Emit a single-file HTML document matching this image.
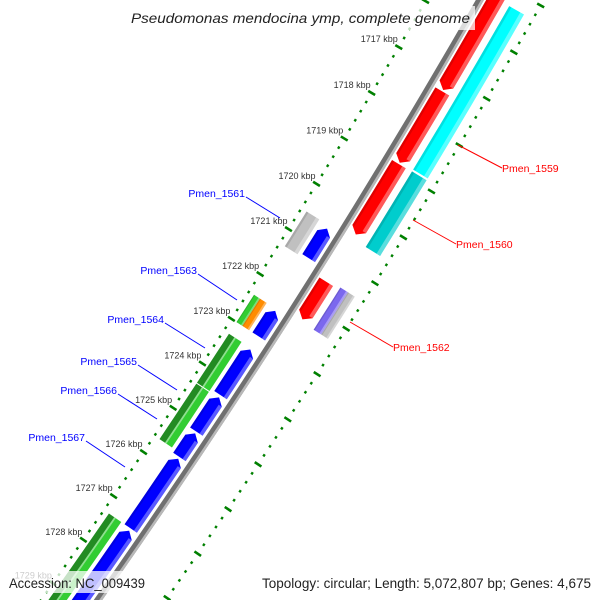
<!DOCTYPE html>
<html><head><meta charset="utf-8"><style>
html,body{margin:0;padding:0;background:#fff;width:600px;height:600px;overflow:hidden;}
svg{display:block;font-family:"Liberation Sans","DejaVu Sans",sans-serif;}
</style></head><body>
<svg id="map" width="600" height="600" viewBox="0 0 600 600" xmlns="http://www.w3.org/2000/svg">
<g id="ticks"></g>
<g id="backbone"></g>
<g id="features"></g>
<g id="ticklabels"></g>
<g font-size="10.5">
<line x1="458" y1="145" x2="502" y2="168" stroke="#f00" stroke-width="1"/>
<text x="502" y="172" fill="#f00">Pmen_1559</text>
<line x1="413" y1="220" x2="456" y2="244" stroke="#f00" stroke-width="1"/>
<text x="456" y="248" fill="#f00">Pmen_1560</text>
<line x1="350" y1="322" x2="393" y2="347" stroke="#f00" stroke-width="1"/>
<text x="393" y="351" fill="#f00">Pmen_1562</text>
<line x1="246" y1="197" x2="280" y2="218" stroke="#00f" stroke-width="1"/>
<text x="245" y="197" fill="#00f" text-anchor="end">Pmen_1561</text>
<line x1="198" y1="274" x2="237" y2="300" stroke="#00f" stroke-width="1"/>
<text x="197" y="274" fill="#00f" text-anchor="end">Pmen_1563</text>
<line x1="165" y1="323" x2="205" y2="348" stroke="#00f" stroke-width="1"/>
<text x="164" y="323" fill="#00f" text-anchor="end">Pmen_1564</text>
<line x1="138" y1="365" x2="177" y2="390" stroke="#00f" stroke-width="1"/>
<text x="137" y="365" fill="#00f" text-anchor="end">Pmen_1565</text>
<line x1="118" y1="394" x2="157" y2="419" stroke="#00f" stroke-width="1"/>
<text x="117" y="394" fill="#00f" text-anchor="end">Pmen_1566</text>
<line x1="86" y1="441" x2="125" y2="467" stroke="#00f" stroke-width="1"/>
<text x="85" y="441" fill="#00f" text-anchor="end">Pmen_1567</text>
</g>
<rect x="127" y="6" width="348" height="24" fill="#fff" fill-opacity="0.75"/>
<text x="131" y="23" font-size="14" font-style="italic" fill="#222" textLength="339" lengthAdjust="spacingAndGlyphs">Pseudomonas mendocina ymp, complete genome</text>
<rect x="4" y="571" width="145" height="22" fill="#fff" fill-opacity="0.75"/>
<text x="9" y="588" font-size="14" fill="#222" textLength="136" lengthAdjust="spacingAndGlyphs">Accession: NC_009439</text>
<rect x="257" y="571" width="340" height="22" fill="#fff" fill-opacity="0.75"/>
<text x="262" y="588" font-size="14" fill="#222" textLength="329" lengthAdjust="spacingAndGlyphs">Topology: circular; Length: 5,072,807 bp; Genes: 4,675</text>
</svg>
<script>
// ---- data ----
const featStarts = [1715.2, 1717.3, 1718.88, 1715.3, 1718.87, 1721.46, 1721.41, 1721.41, 1720.54, 1720.61, 1722.39, 1722.39, 1722.43, 1723.26, 1724.38, 1723.29, 1724.36, 1725.17, 1725.74, 1727.37, 1727.32];
const featEnds   = [1717.27, 1718.85, 1720.42, 1718.83, 1720.52, 1722.29, 1722.34, 1722.34, 1721.31, 1721.26, 1723.0, 1723.0, 1723.0, 1724.36, 1725.63, 1724.31, 1725.13, 1725.7, 1727.32, 1731.5, 1731.5];
const featTracks = ['red', 'red', 'red', 'cyan', 'cyan', 'red', 'cyanA', 'cyanB', 'green', 'blue', 'greenA', 'greenB', 'blue', 'green', 'green', 'blue', 'blue', 'blue', 'blue', 'blue', 'green'];
const featColors = ['#ff0000', '#ff0000', '#ff0000', '#00ffff', '#00cdcd', '#ff0000', '#7b68ee', '#c0c0c0', '#c0c0c0', '#0000ff', '#32cd32', '#ff8c00', '#0000ff', 'g', 'g', '#0000ff', '#0000ff', '#0000ff', '#0000ff', '#0000ff', 'g'];
const featStrands = [1, 1, 1, 0, 0, 1, 0, 0, 0, -1, 0, 0, -1, 0, 0, -1, -1, -1, -1, -1, 0];
const tickStart = 1715;
const tickEnd = 1731;
const labelKbp = [1717, 1718, 1719, 1720, 1721, 1722, 1723, 1724, 1725, 1726, 1727, 1728, 1729];

// ---- geometry ----
const NS = 'http://www.w3.org/2000/svg';
const CX = -6155, CY = -3801;
const TRACKS = {green:[7606,7621], greenA:[7606,7613], greenB:[7613,7621], blue:[7625,7640], red:[7652,7668], cyan:[7675,7692], cyanA:[7675,7684], cyanB:[7684,7692]};
function th(k){ return (30.42 + (k - 1717) * 0.401) * Math.PI / 180; }
function P(k, r){ const t = th(k); return [CX + r * Math.cos(t), CY + r * Math.sin(t)]; }
function pts(list){ return list.map(p => p[0].toFixed(2) + ',' + p[1].toFixed(2)).join(' '); }
function mk(tag, attrs){ const e = document.createElementNS(NS, tag); for (const a in attrs) e.setAttribute(a, attrs[a]); return e; }

// backbone
const bb = document.getElementById('backbone');
const bbPts = [];
for (let k = 1714; k <= 1732; k += 0.5) bbPts.push(P(k, 7643));
for (let k = 1732; k >= 1714; k -= 0.5) bbPts.push(P(k, 7650));
const bbDark = mk('polygon', {points: pts(bbPts), fill: '#707070'});


bb.appendChild(bbDark);
const hlPts = [];
for (let k = 1714; k <= 1732; k += 0.5) hlPts.push(P(k, 7647.5));
for (let k = 1732; k >= 1714; k -= 0.5) hlPts.push(P(k, 7650));
const bbLight = mk('polygon', {points: pts(hlPts), fill: '#b8b8b8'});


bb.appendChild(bbLight);

// ticks
const tg = document.getElementById('ticks');
for (let i = 0; i <= (tickEnd - tickStart) * 5; i++) {
  const k = tickStart + i * 0.2;
  const major = (i % 5 === 0);
  [7600, 7702].forEach(r => {
    const h = major ? 4 : 1.2;
    const a = P(k, r - h), b = P(k, r + h);
    const ln = mk('line', {x1: a[0], y1: a[1], x2: b[0], y2: b[1], stroke: '#008000', 'stroke-width': 2.6});
    
    
    tg.appendChild(ln);
  });
}
const lg = document.getElementById('ticklabels');
labelKbp.forEach(k => {
  const p = P(k, 7600);
  const t = mk('text', {x: p[0] - 1, y: p[1] - 5, 'text-anchor': 'end', 'font-size': '9', fill: '#333'});
  t.textContent = k + ' kbp';
  
  
  lg.appendChild(t);
});

// features
const fg = document.getElementById('features');
function band(k0, k1, r0, r1){
  const a = [];
  const n = Math.max(2, Math.ceil((k1 - k0) / 0.25));
  for (let i = 0; i <= n; i++) a.push(P(k0 + (k1 - k0) * i / n, r0));
  for (let i = n; i >= 0; i--) a.push(P(k0 + (k1 - k0) * i / n, r1));
  return a;
}
featStarts.forEach((s, i) => {
  const e = featEnds[i];
  const tr = TRACKS[featTracks[i]];
  const r0 = tr[0], r1 = tr[1], rm = (r0 + r1) / 2;
  const strand = featStrands[i];
  const ak = 0.12;
  const g = mk('g', {});
  
  
  if (featColors[i] === 'g') {
    const d = mk('polygon', {points: pts(band(s, e, r0, rm)), fill: '#228b22'});
    
    
    g.appendChild(d);
    const l = mk('polygon', {points: pts(band(s, e, rm, r1)), fill: '#32cd32'});
    
    
    g.appendChild(l);
    const m = mk('polygon', {points: pts(band(s, e, rm - 1, rm + 0.8)), fill: '#8fe08f'});
    
    
    g.appendChild(m);
  } else {
    let poly;
    let bs = s, be = e;
    if (strand === 1) {
      be = e - ak;
      poly = band(s, be, r0, r1);
      const n = poly.length / 2;
      poly.splice(n, 0, P(e, rm));
    } else if (strand === -1) {
      bs = s + ak;
      poly = band(bs, e, r0, r1);
      poly.push(P(s, rm));
    } else {
      poly = band(s, e, r0, r1);
    }
    const body = mk('polygon', {points: pts(poly), fill: featColors[i]});
    
    
    g.appendChild(body);
    const w = r1 - r0;
    const hi = mk('polygon', {points: pts(band(bs, be, r1 - w * 0.25, r1)), fill: '#ffffff', 'fill-opacity': '0.35'});
    
    
    g.appendChild(hi);
    const sh = mk('polygon', {points: pts(band(bs, be, r0, r0 + w * 0.15)), fill: '#000000', 'fill-opacity': '0.12'});
    
    
    g.appendChild(sh);
  }
  fg.appendChild(g);
});
</script>
</body></html>
